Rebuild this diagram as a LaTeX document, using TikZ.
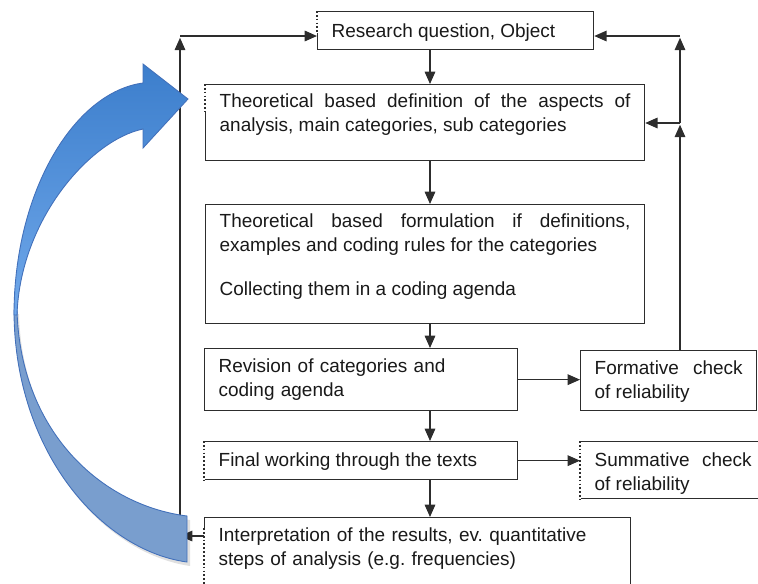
\documentclass[tikz,border=0pt]{standalone}
\usepackage{fontspec}
\setmainfont{Liberation Sans}
\usetikzlibrary{arrows.meta}
\definecolor{framegray}{RGB}{45,45,45}
\definecolor{textgray}{RGB}{25,25,25}
\definecolor{bluetop}{RGB}{60,126,204}
\definecolor{bluebot}{RGB}{112,168,234}
\definecolor{blueback}{RGB}{121,158,206}
\definecolor{blueline}{RGB}{66,112,186}
\tikzset{
  box/.style={draw=framegray, line width=0.75pt, anchor=north west, inner xsep=0.28cm, inner ysep=0pt,
    text=textgray, align=justify,
    font={\fontsize{10.8}{13.3}\selectfont\frenchspacing\hyphenpenalty=10000 \tolerance=9999 \hbadness=10000 }},
  arr/.style={draw=framegray, line width=0.75pt, -{Triangle[length=7pt,width=6pt]}},
  dots/.style={preaction={draw=white, line width=1.5pt}, draw=framegray, line width=0.75pt, dash pattern=on 1pt off 1.2pt}
}
\begin{document}
\begin{tikzpicture}[x=0.02cm, y=-0.02cm]
\useasboundingbox (0,0) rectangle (758,583);
\clip (0,0) rectangle (758,583);
\coordinate (spine) at (430,0);
\node[box, text width=4.96cm, text height=0.52cm, text depth=0.24cm] (research) at (317,11) {Research question, Object};
\node[box, text width=8.22cm, text height=0.46cm, text depth=1.06cm] (theo) at (205,84) {Theoretical based definition of the aspects of analysis, main categories, sub categories};
\node[box, text width=8.22cm, text height=0.46cm, text depth=1.92cm] (formul) at (205,204) {Theoretical based formulation if definitions, examples and coding rules for the categories\par\vspace{0.42cm}Collecting them in a coding agenda};
\node[box, align=left, text width=5.70cm, text height=0.48cm, text depth=0.76cm] (revision) at (204,348) {Revision of categories and\\coding agenda};
\node[box, text width=2.96cm, text height=0.48cm, text depth=0.72cm] (formative) at (580,350) {Formative check of reliability};
\node[box, text width=5.70cm, text height=0.50cm, text depth=0.26cm] (final) at (204,441) {Final working through the texts};
\node[box, text width=3.14cm, text height=0.50cm, text depth=0.64cm] (summative) at (580,441) {Summative check of reliability};
\node[box, align=left, text width=7.96cm, text height=0.48cm, text depth=1.20cm] (interp) at (204,517) {Interpretation of the results, ev. quantitative\\steps of analysis (e.g. frequencies)};
\draw[dots] (research.north west) -- ++(0,22);
\draw[dots] (theo.north west) -- ++(0,28);
\draw[dots] (final.north west) -- (final.south west);
\draw[dots] (summative.north west) -- (summative.south west);
\draw[dots] (interp.north west) ++(0,11) -- ++(0,60);
\draw[arr] (research.south -| spine) -- (theo.north -| spine);
\draw[arr] (theo.south -| spine) -- (formul.north -| spine);
\draw[arr] (formul.south -| spine) -- (revision.north -| spine);
\draw[arr] (revision.south -| spine) -- (final.north -| spine);
\draw[arr] (final.south -| spine) -- (interp.north -| spine);
\draw[arr] (revision.east) -- (formative.west |- revision.east);
\draw[arr] (final.east) -- (summative.west |- final.east);
\coordinate (rightmid) at (680,123);
\coordinate (righttop) at (680,36);
\coordinate (leftbot) at (180,536);
\coordinate (lefttop) at (180,36);
\draw[arr] (formative.north -| rightmid) -- ([yshift=-1pt]rightmid);
\draw[arr] (rightmid) -- (theo.east |- rightmid);
\draw[arr] (rightmid) -- ([yshift=-1pt]righttop);
\draw[arr] (righttop) -- (research.east |- righttop);
\draw[arr] (interp.west |- leftbot) -- (leftbot);
\draw[arr] (leftbot) -- ([yshift=-1pt]lefttop);
\draw[arr] (lefttop) -- (research.west |- lefttop);
\fill[black, opacity=0.12] (16,314) .. controls (16,454) and (102,553) .. (190,566) -- (190,520) .. controls (102,509) and (22,434) .. (19,314) -- cycle;
\filldraw[fill=blueback, draw=blueline, line width=0.5pt] (14,310) .. controls (14,450) and (100,550) .. (187,562) -- (187,516) .. controls (100,505) and (20,430) .. (17,310) -- cycle;
\shadedraw[top color=bluetop, bottom color=bluebot, draw=blueline, line width=0.5pt] (143,83) -- (143,64) -- (188,99) -- (143,148) -- (143,129) .. controls (90,140) and (20,220) .. (17,315) -- (14,315) .. controls (14,190) and (75,92) .. (143,83) -- cycle;
\end{tikzpicture}
\end{document}
